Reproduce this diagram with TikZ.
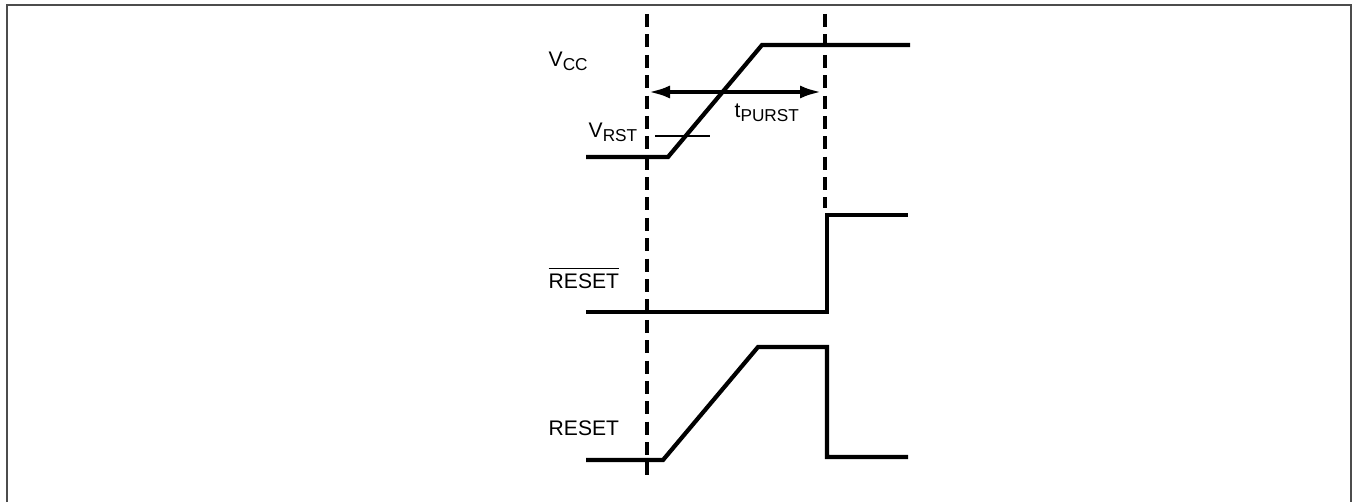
\documentclass[tikz,border=0pt]{standalone}
\usepackage{fontspec}
\setmainfont{Liberation Sans}
\usetikzlibrary{arrows.meta}
\newcommand{\sig}[2]{#1\raisebox{-0.035cm}{\fontsize{4.9}{5}\selectfont #2}}

\begin{document}
\begin{tikzpicture}[
	wave/.style={line width=1.2pt, line join=miter},
	guide/.style={line width=1.2pt, dash pattern=on 3.7pt off 2.1pt},
	lbl/.style={anchor=base west, inner sep=0pt, font=\fontsize{6.0}{6.8}\selectfont},
	>={Latex[length=0.22cm, width=0.13cm]},
]
	\useasboundingbox (0,0) rectangle (13.54,5.02);
	\draw [black!70, line width=0.6pt] (0.07,0) -- (0.07,4.97) -- (13.51,4.97) -- (13.51,0);
	% guides
	\draw [guide] (6.47,4.88) -- (6.47,0.20);
	\draw [guide] (8.25,4.88) -- (8.25,2.94);
	% Vcc
	\node [lbl] (vcc) at (5.48,4.35) {\sig{V}{CC}};
	\draw [wave] (5.86,3.45) -- (6.68,3.45) -- (7.62,4.57) -- (9.10,4.57);
	\node [lbl] (vrst) at (5.88,3.64) {\sig{V}{RST}};
	\draw [line width=0.4pt] (6.55,3.66) -- (7.10,3.66);
	\coordinate (tl) at (6.48,4.10);
	\coordinate (tr) at (8.22,4.10);
	\draw [<->, line width=1.2pt] (tl) -- (tr);
	\node [lbl] (tpurst) at (7.34,3.84) {\sig{t}{PURST}};
	% /RESET
	\node [lbl] (nreset) at (5.48,2.14) {$\overline{\hbox{RESET}}$};
	\draw [wave] (5.86,1.90) -- (8.27,1.90) -- (8.27,2.87) -- (9.08,2.87);
	% RESET
	\node [lbl] (reset) at (5.48,0.67) {RESET};
	\draw [wave] (5.86,0.42) -- (6.63,0.42) -- (7.58,1.55) -- (8.27,1.55) -- (8.27,0.45) -- (9.08,0.45);
\end{tikzpicture}
\end{document}
